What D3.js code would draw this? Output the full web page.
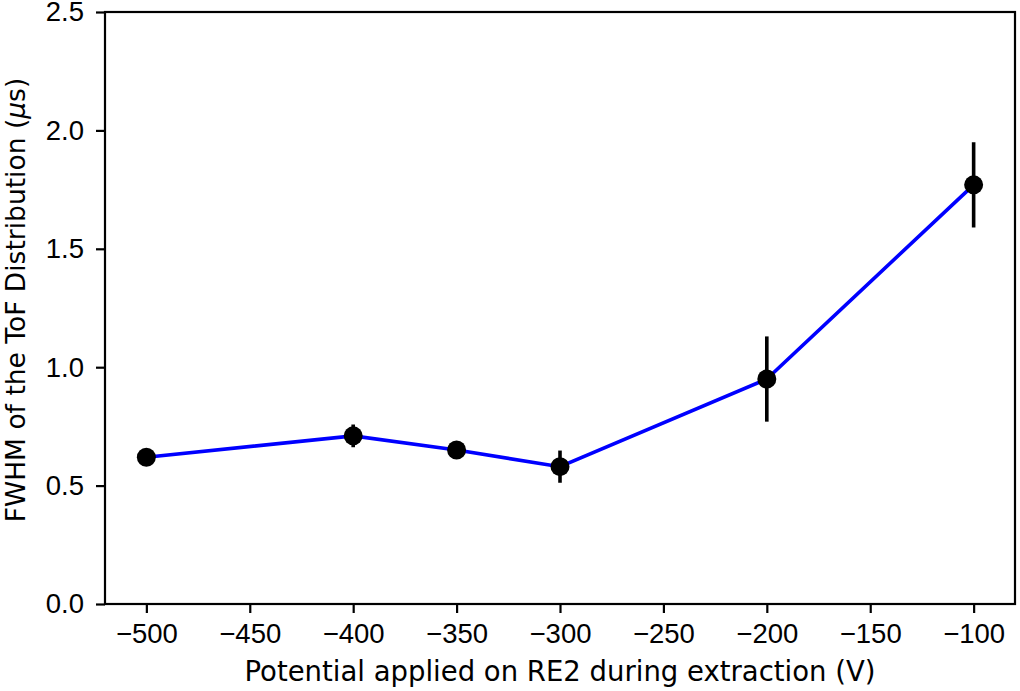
<!DOCTYPE html>
<html>
<head>
<meta charset="utf-8">
<script src="https://cdn.jsdelivr.net/npm/d3@7"></script>
<style>
  body { margin: 0; background: #fff; }
  svg { font-family: "DejaVu Sans", sans-serif; }
</style>
</head>
<body>
<div id="chart"></div>
<script>
// potential on RE2 (V)
const potentials = [-500, -400, -350, -300, -200, -100];
// FWHM of ToF distribution (us)
const fwhm = [0.62, 0.71, 0.65, 0.58, 0.95, 1.77];
const fwhmErr = [0.0, 0.048, 0.015, 0.068, 0.18, 0.18];
const xTicks = [-500, -450, -400, -350, -300, -250, -200, -150, -100];
const yTicks = [0.0, 0.5, 1.0, 1.5, 2.0, 2.5];

const width = 1020, height = 691;
const margin = { top: 12, right: 5, bottom: 87, left: 105 };
const fontSize = "27.5px";

const svg = d3.select("#chart")
    .append("svg")
    .attr("width", width)
    .attr("height", height);

const x = d3.scaleLinear()
    .domain([-520, -80])
    .range([margin.left, width - margin.right]);

const y = d3.scaleLinear()
    .domain([0, 2.5])
    .range([height - margin.bottom, margin.top]);

const fmtMinus = d => d3.format("d")(d).replace("-", "\u2212");

// axes
const xAxis = svg.append("g")
    .attr("transform", `translate(0,${height - margin.bottom})`)
    .call(d3.axisBottom(x).tickValues(xTicks).tickFormat(fmtMinus).tickSizeOuter(0).tickSize(9).tickPadding(10));

const yAxis = svg.append("g")
    .attr("transform", `translate(${margin.left},0)`)
    .call(d3.axisLeft(y).tickValues(yTicks).tickFormat(d3.format(".1f")).tickSizeOuter(0).tickSize(9).tickPadding(12));

[xAxis, yAxis].forEach(a => {
    a.select(".domain").remove();
    a.selectAll("line").attr("stroke", "#000").attr("stroke-width", 2.2);
    a.selectAll("text").attr("fill", "#000").style("font-size", fontSize);
});

// frame
svg.append("rect")
    .attr("x", margin.left)
    .attr("y", margin.top)
    .attr("width", width - margin.left - margin.right)
    .attr("height", height - margin.top - margin.bottom)
    .attr("fill", "none")
    .attr("stroke", "#000")
    .attr("stroke-width", 2.2);

const data = potentials.map((p, i) => ({ p: p, v: fwhm[i], e: fwhmErr[i] }));

// blue line
svg.append("path")
    .datum(data)
    .attr("fill", "none")
    .attr("stroke", "#0000ff")
    .attr("stroke-width", 3.6)
    .attr("d", d3.line().x(d => x(d.p)).y(d => y(d.v)));

// error bars
svg.selectAll(".err")
    .data(data)
    .enter()
    .append("line")
    .attr("class", "err")
    .attr("x1", d => x(d.p))
    .attr("x2", d => x(d.p))
    .attr("y1", d => y(d.v - d.e))
    .attr("y2", d => y(d.v + d.e))
    .attr("stroke", "#000")
    .attr("stroke-width", 3.6);

// markers
svg.selectAll(".pt")
    .data(data)
    .enter()
    .append("circle")
    .attr("class", "pt")
    .attr("cx", d => x(d.p))
    .attr("cy", d => y(d.v))
    .attr("r", 9.5)
    .attr("fill", "#000");

// axis labels
svg.append("text")
    .attr("x", (margin.left + width - margin.right) / 2)
    .attr("y", 681)
    .attr("text-anchor", "middle")
    .style("font-size", fontSize)
    .text("Potential applied on RE2 during extraction (V)");

const yl = svg.append("text")
    .attr("transform", "translate(25,300) rotate(-90)")
    .attr("text-anchor", "middle")
    .style("font-size", "26.5px");
yl.append("tspan").text("FWHM of the ToF Distribution (");
yl.append("tspan").style("font-style", "italic").text("\u03bc");
yl.append("tspan").text("s)");
</script>
</body>
</html>
